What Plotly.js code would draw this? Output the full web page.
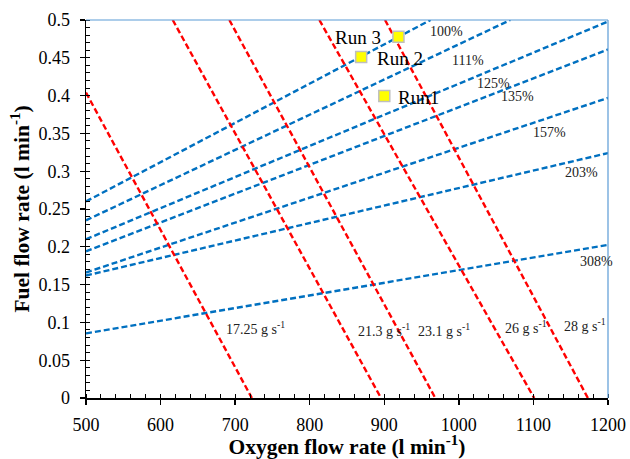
<!DOCTYPE html>
<html>
<head>
<meta charset="utf-8">
<script src="https://cdn.plot.ly/plotly-3.0.1.min.js"></script>
<style>html,body{margin:0;padding:0;background:#fff;}#chart{width:630px;height:459px;}</style>
</head>
<body>
<div id="chart"></div>
<script>
// Equivalence-ratio lines (blue): label, start and end points
var ratioLabels = ['100%', '111%', '125%', '135%', '157%', '203%', '308%'];
var ratioX0 = [500, 500, 500, 500, 500, 500, 500];
var ratioY0 = [0.260, 0.235, 0.210, 0.194, 0.166, 0.162, 0.0855];
var ratioX1 = [962, 1069, 1200, 1200, 1200, 1200, 1200];
var ratioY1 = [0.500, 0.500, 0.498, 0.461, 0.397, 0.324, 0.2026];
var ratioLabelX = [984, 1012, 1046, 1078, 1122, 1164, 1185];
var ratioLabelY = [0.4845, 0.447, 0.4163, 0.3986, 0.351, 0.2982, 0.1806];

// Oxygen mass-flow lines (red)
var massLabels = ['17.25 g s<sup>-1</sup>', '21.3 g s<sup>-1</sup>', '23.1 g s<sup>-1</sup>', '26 g s<sup>-1</sup>', '28 g s<sup>-1</sup>'];
var massX0 = [500, 616.3, 692.2, 812.9, 901];
var massY0 = [0.404, 0.5, 0.5, 0.5, 0.5];
var massX1 = [722.4, 895.6, 968.4, 1101, 1173];
var massY1 = [0, 0, 0, 0, 0];
var massLabelX = [727, 899, 980, 1090, 1169];
var massLabelY = [0.0925, 0.0903, 0.0894, 0.0938, 0.0969];

// Experimental runs
var runNames = ['Run1', 'Run 2', 'Run 3'];
var runX = [900, 869, 919];
var runY = [0.3995, 0.451, 0.478];
var runLabelX = [915.5, 887.5, 898.7];
var runLabelY = [0.398, 0.449, 0.477];
var runLabelAnchor = ['left', 'left', 'right'];

var FONT = '"Liberation Serif", "Times New Roman", serif';
var traces = [];
for (var i = 0; i < ratioLabels.length; i++) {
  traces.push({x: [ratioX0[i], ratioX1[i]], y: [ratioY0[i], ratioY1[i]], mode: 'lines',
    line: {color: '#0070C0', width: 2.4, dash: '6px,3px'}, hoverinfo: 'skip', name: ratioLabels[i]});
}
for (var j = 0; j < massLabels.length; j++) {
  traces.push({x: [massX0[j], massX1[j]], y: [massY0[j], massY1[j]], mode: 'lines',
    line: {color: '#FF0000', width: 2.4, dash: '6px,3px'}, hoverinfo: 'skip', name: massLabels[j]});
}
traces.push({x: runX, y: runY, mode: 'markers', name: 'Runs',
  marker: {symbol: 'square', size: 11, color: '#FFFF00', line: {color: '#BFBFBF', width: 1.5}}});

var ann = [];
for (var a = 0; a < ratioLabels.length; a++) {
  ann.push({x: ratioLabelX[a], y: ratioLabelY[a], text: ratioLabels[a], showarrow: false,
    font: {family: FONT, size: 14, color: '#222'}});
}
for (var b = 0; b < massLabels.length; b++) {
  ann.push({x: massLabelX[b], y: massLabelY[b], text: massLabels[b], showarrow: false,
    font: {family: FONT, size: 14, color: '#222'}});
}
for (var c = 0; c < runNames.length; c++) {
  ann.push({x: runLabelX[c], y: runLabelY[c], text: runNames[c], showarrow: false,
    xanchor: runLabelAnchor[c], font: {family: FONT, size: 19, color: '#000'}});
}

var layout = {
  width: 630, height: 459,
  margin: {l: 86, r: 22, t: 20, b: 61},
  showlegend: false,
  paper_bgcolor: '#fff', plot_bgcolor: '#fff',
  font: {family: FONT, color: '#000'},
  xaxis: {range: [500, 1200], dtick: 100, tick0: 500, showgrid: false, zeroline: false,
    showline: true, linecolor: '#000', linewidth: 1.5,
    ticks: 'outside', ticklen: 5, tickwidth: 1.3, tickcolor: '#000', ticklabelstandoff: 5,
    minor: {dtick: 20, ticks: 'inside', ticklen: 4, tickwidth: 1, tickcolor: '#000', showgrid: false},
    tickfont: {family: FONT, size: 18, color: '#000'},
    title: {text: '<b>Oxygen flow rate (l min<sup>-1</sup>)</b>', font: {family: FONT, size: 21.5, color: '#000'}, standoff: 6}},
  yaxis: {range: [0, 0.5], dtick: 0.05, tick0: 0, showgrid: false, zeroline: false,
    showline: true, linecolor: '#000', linewidth: 1.5,
    ticks: 'outside', ticklen: 5, tickwidth: 1.3, tickcolor: '#000', ticklabelstandoff: 6,
    minor: {dtick: 0.01, ticks: 'inside', ticklen: 4, tickwidth: 1, tickcolor: '#000', showgrid: false},
    tickfont: {family: FONT, size: 18, color: '#000'},
    title: {text: '<b>Fuel flow rate (l min<sup>-1</sup>)</b>', font: {family: FONT, size: 21.5, color: '#000'}, standoff: 3}},
  shapes: [
    {type: 'line', xref: 'paper', yref: 'paper', x0: 0, x1: 1, y0: 1, y1: 1, line: {color: '#5B9BD5', width: 1.2}},
    {type: 'line', xref: 'paper', yref: 'paper', x0: 1, x1: 1, y0: 0, y1: 1, line: {color: '#5B9BD5', width: 1.2}}
  ],
  annotations: ann
};

Plotly.newPlot('chart', traces, layout, {displayModeBar: false, staticPlot: true});
</script>
</body>
</html>
